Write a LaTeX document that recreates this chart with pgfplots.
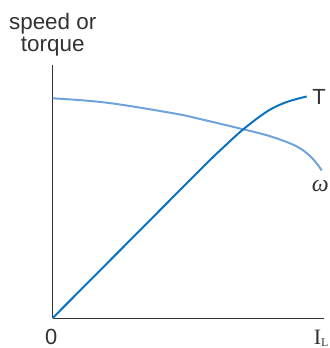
\documentclass[border=0pt]{standalone}
\usepackage{fontspec}
\setmainfont{Liberation Sans}
\newfontfamily\seriffont{Liberation Serif}
\usepackage{pgfplots}
\pgfplotsset{compat=1.18}
\definecolor{tcol}{RGB}{10,114,190}
\definecolor{wcol}{RGB}{112,162,220}
\definecolor{axcol}{RGB}{50,50,50}
\begin{document}
\begin{tikzpicture}[x=1bp,y=1bp]
\path[use as bounding box] (-52.7,-30) rectangle (277.3,318);
\begin{axis}[
  at={(0,0)}, anchor=origin,
  scale only axis, width=271.3bp, height=253bp,
  xmin=0, xmax=271.3, ymin=0, ymax=253,
  axis lines=left,
  x axis line style={-, axcol, line width=0.8pt},
  y axis line style={-, axcol, line width=0.8pt},
  xtick=\empty, ytick=\empty,
  clip=false,
]
\addplot[wcol, line width=2pt, smooth, tension=0.6] coordinates {
 (0,219.7) (54,215.3) (120.6,204.7) (147.3,199) (190.6,188.7) (214,182.8) (234,176) (247.3,169.7) (257.3,162) (265.6,152.5) (269,147.5)
};
\addplot[tcol, line width=2pt, smooth, tension=0.6] coordinates {
 (0,0) (80,80.4) (150,150.7) (170,170) (190.6,188.7) (214,206.3) (230.6,214.7) (244,219) (254,221.5)
};
\end{axis}
\node[anchor=base, font=\fontsize{22.5}{25}\selectfont, inner sep=0, text=axcol] at (0,289) {speed or};
\node[anchor=base, font=\fontsize{22.5}{25}\selectfont, inner sep=0, text=axcol] at (0,266.3) {torque};
\node[anchor=base, font=\fontsize{22}{24}\selectfont, inner sep=0, text=axcol] at (-1.5,-26) {0};
\node[anchor=base west, font=\fontsize{22}{24}\selectfont, inner sep=0, text=axcol] at (259.6,214) {T};
\node[anchor=base west, font=\fontsize{22}{24}\selectfont\seriffont, inner sep=0, text=axcol] at (261,-26.5) {I\raisebox{-2bp}{\fontsize{12}{14}\selectfont L}};
\node[anchor=base west, font=\fontsize{24}{26}\selectfont\seriffont\itshape, inner sep=0, text=axcol] at (259,127) {ω};
\end{tikzpicture}
\end{document}
